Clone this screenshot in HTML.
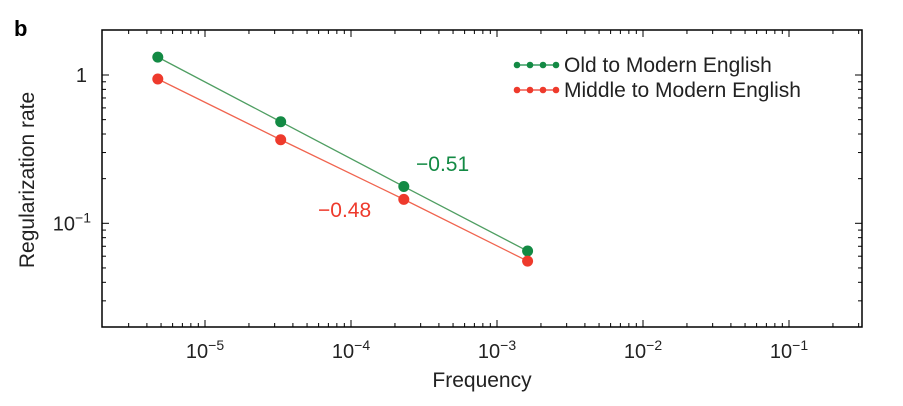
<!DOCTYPE html>
<html><head><meta charset="utf-8"><style>
body{margin:0;background:#fff;}
svg{display:block;font-family:"Liberation Sans",sans-serif;}
</style></head><body>
<svg id="chart" width="903" height="406"></svg>
<script>
const frequency=[4.75e-6,3.3e-5,2.3e-4,1.62e-3];
const oldToModern=[1.32,0.484,0.177,0.065];
const middleToModern=[0.94,0.366,0.145,0.0556];
const xTickExps=[-5,-4,-3,-2,-1];
const yTickExps=[0,-1];
const slopeLabels=["\u22120.51","\u22120.48"];

const L=102,R=862,T=30,B=327;
const x0=351,xPer=146;
const y0=75,yPer=148.3;
const X=v=>x0+(Math.log10(v)+4)*xPer;
const Y=v=>y0-Math.log10(v)*yPer;
const svg=document.getElementById('chart');
const NS='http://www.w3.org/2000/svg';
function mk(t,a,p){const e=document.createElementNS(NS,t);for(const k in a)e.setAttribute(k,a[k]);(p||svg).appendChild(e);return e;}

const label=mk('text',{x:14,y:36,'font-size':22,'font-weight':'bold',fill:'#000'});label.textContent='b';



const frame=mk('rect',{x:L,y:T,width:R-L,height:B-T,fill:'none',stroke:'#000','stroke-width':1.5});



const ticks=mk('g',{stroke:'#000','stroke-width':1});


for(let e=-6;e<=-1;e++){for(let m=1;m<10;m++){const v=m*Math.pow(10,e);const x=X(v);if(x<L+1||x>R-1)continue;const len=m===1?7:4;
mk('line',{x1:x,x2:x,y1:B,y2:B-len},ticks);mk('line',{x1:x,x2:x,y1:T,y2:T+len},ticks);}}
for(let e=-3;e<=1;e++){for(let m=1;m<10;m++){const v=m*Math.pow(10,e);const y=Y(v);if(y<T+1||y>B-1)continue;const len=m===1?7:4;
mk('line',{x1:L,x2:L+len,y1:y,y2:y},ticks);mk('line',{x1:R,x2:R-len,y1:y,y2:y},ticks);}}

xTickExps.forEach(e=>{const t=mk('text',{x:X(Math.pow(10,e)),y:358,'font-size':20,'text-anchor':'middle',fill:'#222'});
t.innerHTML='10<tspan dy="-8" font-size="14">\u2212'+(-e)+'</tspan>';

});
yTickExps.forEach(e=>{const t=mk('text',{x:e===0?87:91,y:Y(Math.pow(10,e))+7,'font-size':20,'text-anchor':'end',fill:'#222'});
t.innerHTML=e===0?'1':'10<tspan dy="-8" font-size="14">\u22121</tspan>';

});

const xt=mk('text',{x:482,y:387,'font-size':21,'text-anchor':'middle',fill:'#222'});xt.textContent='Frequency';


const yt=mk('text',{x:0,y:0,'font-size':21,'text-anchor':'middle',fill:'#222',transform:'translate(34,180) rotate(-90)'});yt.textContent='Regularization rate';



function series(vals,color,lineColor,name){const g=mk('g',{});


mk('polyline',{points:vals.map((v,i)=>X(frequency[i])+','+Y(v)).join(' '),fill:'none',stroke:lineColor,'stroke-width':1.3},g);
vals.forEach((v,i)=>{const c=mk('circle',{cx:X(frequency[i]),cy:Y(v),r:5.5,fill:color},g);

});}
series(oldToModern,'#138a44','#4f9e62','old-series');
series(middleToModern,'#ee3a2c','#f0644f','middle-series');

const s1=mk('text',{x:416,y:171,'font-size':21,fill:'#138a44'});s1.textContent=slopeLabels[0];


const s2=mk('text',{x:318,y:217,'font-size':21,fill:'#ee3a2c'});s2.textContent=slopeLabels[1];



[['Old to Modern English','#138a44',65],['Middle to Modern English','#ee3a2c',90]].forEach(([txt,c,y])=>{
const g=mk('g',{});


mk('line',{x1:517,x2:556,y1:y,y2:y,stroke:c,'stroke-width':1.3},g);
[517,530,543,556].forEach(x=>mk('circle',{cx:x,cy:y,r:3.3,fill:c},g));
const t=mk('text',{x:564,y:y+7,'font-size':21,fill:'#222'},g);t.textContent=txt;});
</script>
</body></html>
